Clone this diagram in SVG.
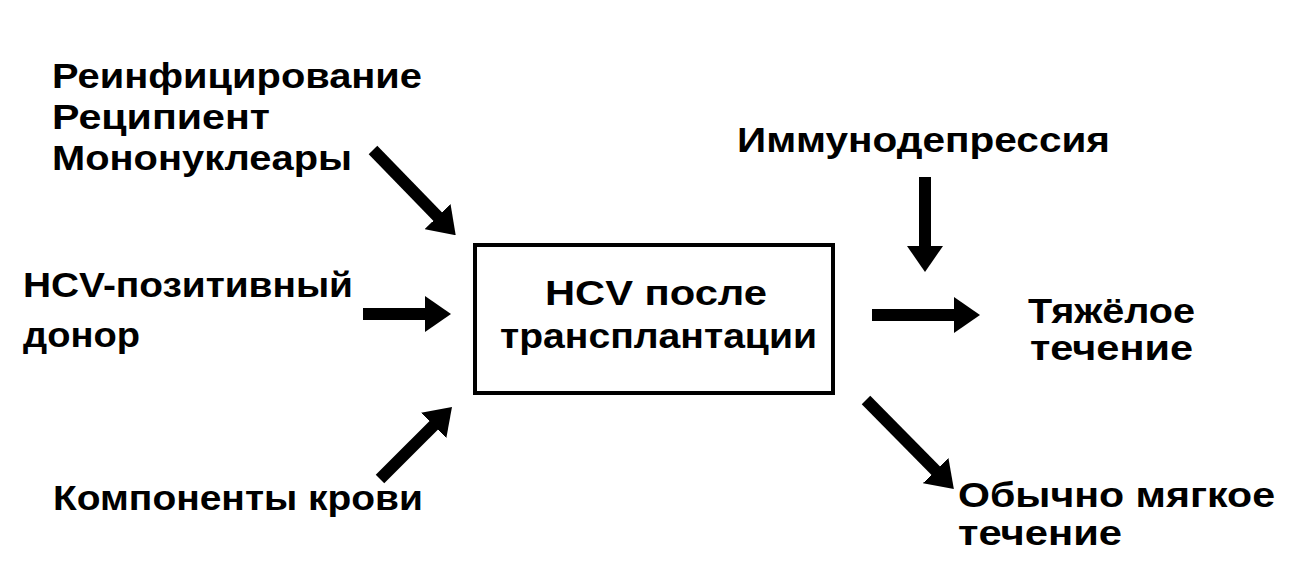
<svg xmlns="http://www.w3.org/2000/svg" width="1295" height="580" viewBox="0 0 1295 580">
  <style>
    text { font-family: "Liberation Sans", Arial, sans-serif; font-size: 35px; font-weight: 700; fill: #000; }
    .conn { stroke: #000; stroke-width: 12; fill: none; marker-end: url(#head); }
    .box { fill: #fff; stroke: #000; stroke-width: 4; }
  </style>
  <defs>
    <marker id="head" markerUnits="userSpaceOnUse" markerWidth="26" markerHeight="36" viewBox="0 0 26 36" refX="1" refY="18" orient="auto">
      <path d="M0,0 L26,18 L0,36 Z" fill="#000"/>
    </marker>
  </defs>
  <rect width="1295" height="580" fill="#fff"/>

  <g id="connectors">
    <line class="conn" x1="373" y1="150" x2="438.3" y2="217.3"/>
    <line class="conn" x1="363" y1="314" x2="426" y2="314"/>
    <line class="conn" x1="380" y1="479" x2="434.3" y2="424.7"/>
    <line class="conn" x1="925" y1="177" x2="925" y2="247"/>
    <line class="conn" x1="872" y1="315" x2="955" y2="315"/>
    <line class="conn" x1="866" y1="400" x2="936.3" y2="471.3"/>
  </g>

  <g id="node-center">
    <rect class="box" x="475" y="245" width="358" height="148"/>
    <text x="545" y="305" textLength="222" lengthAdjust="spacingAndGlyphs">HCV после</text>
    <text x="500" y="348" textLength="317" lengthAdjust="spacingAndGlyphs">трансплантации</text>
  </g>

  <g id="node-reinfection">
    <text x="52" y="88" textLength="370" lengthAdjust="spacingAndGlyphs">Реинфицирование</text>
    <text x="52" y="129" textLength="218" lengthAdjust="spacingAndGlyphs">Реципиент</text>
    <text x="52" y="170" textLength="300" lengthAdjust="spacingAndGlyphs">Мононуклеары</text>
  </g>

  <g id="node-donor">
    <text x="23" y="297" textLength="330" lengthAdjust="spacingAndGlyphs">HCV-позитивный</text>
    <text x="23" y="347" textLength="117" lengthAdjust="spacingAndGlyphs">донор</text>
  </g>

  <g id="node-blood">
    <text x="53" y="510" textLength="370" lengthAdjust="spacingAndGlyphs">Компоненты крови</text>
  </g>

  <g id="node-immuno">
    <text x="737" y="152" textLength="373" lengthAdjust="spacingAndGlyphs">Иммунодепрессия</text>
  </g>

  <g id="node-severe">
    <text x="1028" y="323" textLength="167" lengthAdjust="spacingAndGlyphs">Тяжёлое</text>
    <text x="1030" y="360" textLength="163" lengthAdjust="spacingAndGlyphs">течение</text>
  </g>

  <g id="node-mild">
    <text x="958" y="507" textLength="317" lengthAdjust="spacingAndGlyphs">Обычно мягкое</text>
    <text x="958" y="545" textLength="164" lengthAdjust="spacingAndGlyphs">течение</text>
  </g>
</svg>
